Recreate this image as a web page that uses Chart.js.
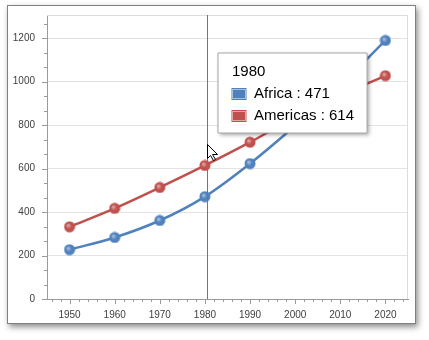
<!DOCTYPE html>
<html>
<head>
<meta charset="utf-8">
<script src="https://cdn.jsdelivr.net/npm/chart.js@4"></script>
<style>
  html, body { margin: 0; padding: 0; background: #fff; }
  #wrap { position: relative; width: 429px; height: 340px; }
  #frame {
    position: absolute; left: 7px; top: 5px; width: 407px; height: 317px;
    border: 1px solid #808080; background: #fff;
    box-shadow: 2px 3px 6px rgba(0, 0, 0, 0.45);
  }
  #chart { position: absolute; left: 0; top: 0; }
</style>
</head>
<body>
<div id="wrap">
  <div id="frame"></div>
  <canvas id="chart" width="429" height="340"></canvas>
</div>
<script>
// data
const years = [1950, 1960, 1970, 1980, 1990, 2000, 2010, 2020];
const africa = [227, 283, 361, 471, 623, 797, 982, 1189];
const americas = [332, 417, 513, 614, 721, 836, 935, 1027];
const yTicks = [0, 200, 400, 600, 800, 1000, 1200];
const hoverYear = 1980;
// mouse position (data units) - crosshair follows the pointer
const cursorX = 1980.45;
const cursorY = 713;

const FONT = '"Liberation Sans", Arial, sans-serif';
const BLUE = '#4f81bd';
const RED = '#c0504d';

// shaded round marker
function makeMarker(color) {
    const c = document.createElement('canvas');
    c.width = 12; c.height = 12;
    const g = c.getContext('2d');
    const grad = g.createRadialGradient(4.5, 4.5, 0.5, 6, 6, 6);
    grad.addColorStop(0, 'rgba(255,255,255,0.5)');
    grad.addColorStop(0.45, 'rgba(255,255,255,0)');
    g.beginPath();
    g.arc(6, 6, 5.5, 0, Math.PI * 2);
    g.fillStyle = color;
    g.fill();
    g.fillStyle = grad;
    g.fill();
    return c;
}

// plot border, tick marks, crosshair, pointer
const decor = {
    id: 'decor',
    beforeDatasetsDraw(chart) {
        const { ctx, chartArea: a, scales: { x, y } } = chart;
        ctx.save();
        ctx.lineWidth = 1;
        ctx.strokeStyle = '#dcdcdc';
        ctx.beginPath();
        ctx.moveTo(a.left, a.top + 0.5);
        ctx.lineTo(a.right - 0.5, a.top + 0.5);
        ctx.lineTo(a.right - 0.5, a.bottom);
        ctx.stroke();

        ctx.strokeStyle = '#9a9a9a';
        ctx.beginPath();
        for (let v = Math.ceil(x.min / 2) * 2; v <= x.max; v += 2) {
            const px = Math.round(x.getPixelForValue(v)) + 0.5;
            const len = v % 10 === 0 ? 5 : 3;
            ctx.moveTo(px, a.bottom);
            ctx.lineTo(px, a.bottom + len);
        }
        const step = (yTicks[1] - yTicks[0]) / 3;
        for (let i = 0; i * step <= y.max; i++) {
            const py = Math.round(y.getPixelForValue(i * step)) + 0.5;
            const len = i % 3 === 0 ? 5 : 3;
            ctx.moveTo(a.left, py);
            ctx.lineTo(a.left - len, py);
        }
        ctx.stroke();
        ctx.restore();
    },
    afterDatasetsDraw(chart) {
        const { ctx, chartArea: a, scales: { x } } = chart;
        const px = Math.round(x.getPixelForValue(cursorX)) + 0.5;
        ctx.save();
        ctx.strokeStyle = '#c040c0';
        ctx.lineWidth = 1;
        ctx.beginPath();
        ctx.moveTo(px, a.top);
        ctx.lineTo(px, a.bottom);
        ctx.stroke();
        ctx.restore();
    },
    beforeTooltipDraw(chart, args) {
        const t = args.tooltip;
        const ctx = chart.ctx;
        ctx.save();
        ctx.shadowColor = 'rgba(0,0,0,0.35)';
        ctx.shadowBlur = 4;
        ctx.shadowOffsetX = 2;
        ctx.shadowOffsetY = 2;
        ctx.fillStyle = '#fff';
        ctx.fillRect(t.x, t.y, t.width, t.height);
        ctx.restore();
    },
    afterDraw(chart) {
        // mouse pointer
        const { ctx, scales: { x, y } } = chart;
        const px = Math.round(x.getPixelForValue(cursorX)) + 0.5;
        const py = Math.round(y.getPixelForValue(cursorY)) + 0.5;
        const shape = [[0, 0], [0, 14], [3, 11], [6, 16], [8, 15], [5, 10], [10, 10]];
        ctx.save();
        ctx.beginPath();
        shape.forEach(([dx, dy], i) => i ? ctx.lineTo(px + dx, py + dy) : ctx.moveTo(px + dx, py + dy));
        ctx.closePath();
        ctx.fillStyle = '#fff';
        ctx.fill();
        ctx.strokeStyle = '#000';
        ctx.lineWidth = 1;
        ctx.stroke();
        ctx.restore();
    }
};

Chart.Tooltip.positioners.nextToLine = function () {
    const x = this.chart.scales.x;
    return { x: Math.round(x.getPixelForValue(cursorX)) + 11, y: this.chart.chartArea.top + 38 };
};

const chart = new Chart(document.getElementById('chart'), {
    type: 'line',
    data: {
        datasets: [{
            label: 'Africa',
            data: years.map((yr, i) => ({ x: yr, y: africa[i] })),
            borderColor: BLUE,
            backgroundColor: BLUE,
            borderWidth: 2.5,
            tension: 0.35,
            pointStyle: makeMarker(BLUE),
            pointRadius: 6
        }, {
            label: 'Americas',
            data: years.map((yr, i) => ({ x: yr, y: americas[i] })),
            borderColor: RED,
            backgroundColor: RED,
            borderWidth: 2.5,
            tension: 0.35,
            pointStyle: makeMarker(RED),
            pointRadius: 6
        }]
    },
    options: {
        responsive: false,
        animation: false,
        events: [],
        layout: { padding: { left: 0, top: 15, right: 21, bottom: 0 } },
        plugins: {
            legend: { display: false },
            tooltip: {
                position: 'nextToLine',
                xAlign: 'left',
                yAlign: 'top',
                caretSize: 0,
                caretPadding: 0,
                cornerRadius: 0,
                backgroundColor: '#fff',
                borderColor: '#a6a6a6',
                borderWidth: 1,
                titleColor: '#000',
                bodyColor: '#000',
                titleFont: { family: FONT, size: 15, weight: 'normal', lineHeight: 1.2 },
                bodyFont: { family: FONT, size: 15, weight: 'normal', lineHeight: 1.2 },
                titleMarginBottom: 4,
                bodySpacing: 4,
                padding: { top: 10, bottom: 8, left: 14, right: 13 },
                boxWidth: 14,
                boxHeight: 11,
                boxPadding: 6,
                multiKeyBackground: '#fff',
                callbacks: {
                    title: items => String(items[0].parsed.x),
                    label: item => item.dataset.label + ' : ' + item.parsed.y,
                    labelColor: item => ({
                        borderColor: item.dataset.borderColor,
                        backgroundColor: item.dataset.borderColor,
                        borderWidth: 1
                    })
                }
            }
        },
        scales: {
            x: {
                type: 'linear',
                min: 1945,
                max: 2025,
                afterBuildTicks: s => { s.ticks = years.map(v => ({ value: v })); },
                afterFit: s => { s.height = 41; s.paddingLeft = 0; s.paddingRight = 0; },
                grid: { display: false },
                border: { display: true, color: '#9a9a9a', width: 1 },
                ticks: {
                    padding: 2,
                    color: '#404040',
                    font: { family: FONT, size: 10 },
                    callback: v => String(v)
                }
            },
            y: {
                min: 0,
                max: 1306,
                afterBuildTicks: s => { s.ticks = yTicks.map(v => ({ value: v })); },
                afterFit: s => { s.width = 47; s.paddingTop = 0; s.paddingBottom = 0; },
                grid: { color: '#e3e3e3', drawTicks: false },
                border: { display: true, color: '#9a9a9a', width: 1 },
                ticks: {
                    padding: 12,
                    color: '#404040',
                    font: { family: FONT, size: 10 },
                    callback: v => String(v)
                }
            }
        }
    },
    plugins: [decor]
});

const idx = years.indexOf(hoverYear);
chart.tooltip.setActiveElements([
    { datasetIndex: 0, index: idx },
    { datasetIndex: 1, index: idx }
], { x: 0, y: 0 });
chart.update();
</script>
</body>
</html>
